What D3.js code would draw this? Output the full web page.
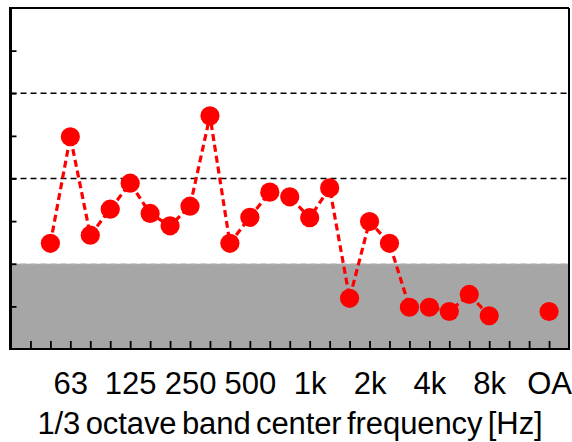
<!DOCTYPE html>
<html>
<head>
<meta charset="utf-8">
<script src="https://cdn.jsdelivr.net/npm/d3@7"></script>
<style>
  html, body { margin: 0; padding: 0; background: #fff; }
  svg { display: block; }
  text { font-family: "Liberation Sans", Arial, sans-serif; }
</style>
</head>
<body>
<svg id="chart" width="572" height="442"></svg>
<script>
// 1/3 octave band centre frequencies (index 24 is an empty spacer before the overall level)
const bands = ["50","63","80","100","125","160","200","250","315","400","500","630","800",
               "1k","1.25k","1.6k","2k","2.5k","3.15k","4k","5k","6.3k","8k","10k","","OA"];
// Level per band (null = no value)
const levels = [24.8, 49.8, 26.7, 32.8, 38.9, 31.8, 28.9, 33.5, 54.7, 24.8, 30.9, 36.8, 35.7,
                30.8, 37.8, 11.9, 29.9, 24.8, 9.8, 9.8, 8.8, 12.8, 7.8, null, null, 8.8];
// Bands that carry a label on the frequency axis
const labelledBands = ["63","125","250","500","1k","2k","4k","8k","OA"];
// Reference levels
const shadedLimit = 20;
const dashedLevels = [40, 60];
const yTicks = [10, 20, 30, 40, 50, 60, 70];

const svg = d3.select("#chart");
const plotLeft = 10.5, plotRight = 569, plotTop = 8, plotBottom = 349;

const x = d3.scaleLinear().domain([-2, bands.length]).range([plotLeft, plotRight]);
const y = d3.scaleLinear().domain([0, 80]).range([plotBottom, plotTop]);

// shaded region below the limit
svg.append("rect")
  .attr("x", x(-2)).attr("y", y(shadedLimit))
  .attr("width", x(bands.length) - x(-2)).attr("height", y(0) - y(shadedLimit))
  .attr("fill", "#a6a6a6");
svg.append("line")
  .attr("x1", x(-2)).attr("x2", x(bands.length))
  .attr("y1", y(shadedLimit)).attr("y2", y(shadedLimit))
  .attr("stroke", "#c4c4c4").attr("stroke-width", 1.2).attr("stroke-dasharray", "6,4");

// dashed reference lines
svg.selectAll("line.ref").data(dashedLevels).join("line")
  .attr("class", "ref")
  .attr("x1", x(-2)).attr("x2", x(bands.length))
  .attr("y1", d => y(d)).attr("y2", d => y(d))
  .attr("stroke", "#000").attr("stroke-width", 1.5).attr("stroke-dasharray", "6,4");

// data series
const pts = levels.map((v, i) => ({ i, v })).filter(d => d.i < 24);
const line = d3.line().defined(d => d.v != null).x(d => x(d.i)).y(d => y(d.v));
svg.append("path").datum(pts)
  .attr("d", line)
  .attr("fill", "none").attr("stroke", "#ff0000")
  .attr("stroke-width", 3.2).attr("stroke-dasharray", "7,4");

svg.selectAll("circle.pt").data(levels.map((v, i) => ({ i, v })).filter(d => d.v != null)).join("circle")
  .attr("class", "pt")
  .attr("cx", d => x(d.i)).attr("cy", d => y(d.v)).attr("r", 9.6)
  .attr("fill", "#ff0000");

// x axis: inward tick marks
const xAxis = svg.append("g").attr("transform", `translate(0,${plotBottom})`)
  .call(d3.axisBottom(x).tickValues(d3.range(-1, bands.length)).tickSize(-8).tickFormat(""));
xAxis.select(".domain").remove();
xAxis.selectAll(".tick line").attr("stroke", "#000").attr("stroke-width", 1.8);

// x axis labels
const labelIdx = bands.map((b, i) => i).filter(i => labelledBands.includes(bands[i]));
const xLab = svg.append("g").attr("transform", `translate(0,${plotBottom})`)
  .call(d3.axisBottom(x).tickValues(labelIdx).tickSize(0).tickPadding(23).tickFormat(i => bands[i]));
xLab.select(".domain").remove();
xLab.selectAll("text").attr("font-size", 31).attr("fill", "#000")
  .attr("font-family", "'Liberation Sans', Arial, sans-serif");

// y axis: inward tick marks, no labels
const yAxis = svg.append("g").attr("transform", `translate(${plotLeft},0)`)
  .call(d3.axisLeft(y).tickValues(yTicks).tickSize(-6).tickFormat(""));
yAxis.select(".domain").remove();
yAxis.selectAll(".tick line").attr("stroke", "#000").attr("stroke-width", 1.8);

// frame
svg.append("line").attr("x1", plotLeft - 1).attr("x2", plotRight).attr("y1", plotTop).attr("y2", plotTop)
  .attr("stroke", "#000").attr("stroke-width", 2);
svg.append("line").attr("x1", plotRight).attr("x2", plotRight).attr("y1", plotTop).attr("y2", plotBottom)
  .attr("stroke", "#000").attr("stroke-width", 2);
svg.append("line").attr("x1", plotLeft).attr("x2", plotRight + 1).attr("y1", plotBottom).attr("y2", plotBottom)
  .attr("stroke", "#000").attr("stroke-width", 2);
svg.append("line").attr("x1", plotLeft).attr("x2", plotLeft).attr("y1", plotTop - 1).attr("y2", plotBottom + 1)
  .attr("stroke", "#000").attr("stroke-width", 3);

// axis title
svg.append("text")
  .attr("x", 290).attr("y", 434)
  .attr("text-anchor", "middle").attr("font-size", 31).attr("fill", "#000")
  .attr("word-spacing", -3).attr("letter-spacing", -0.1)
  .text("1/3 octave band center frequency [Hz]");
</script>
</body>
</html>
